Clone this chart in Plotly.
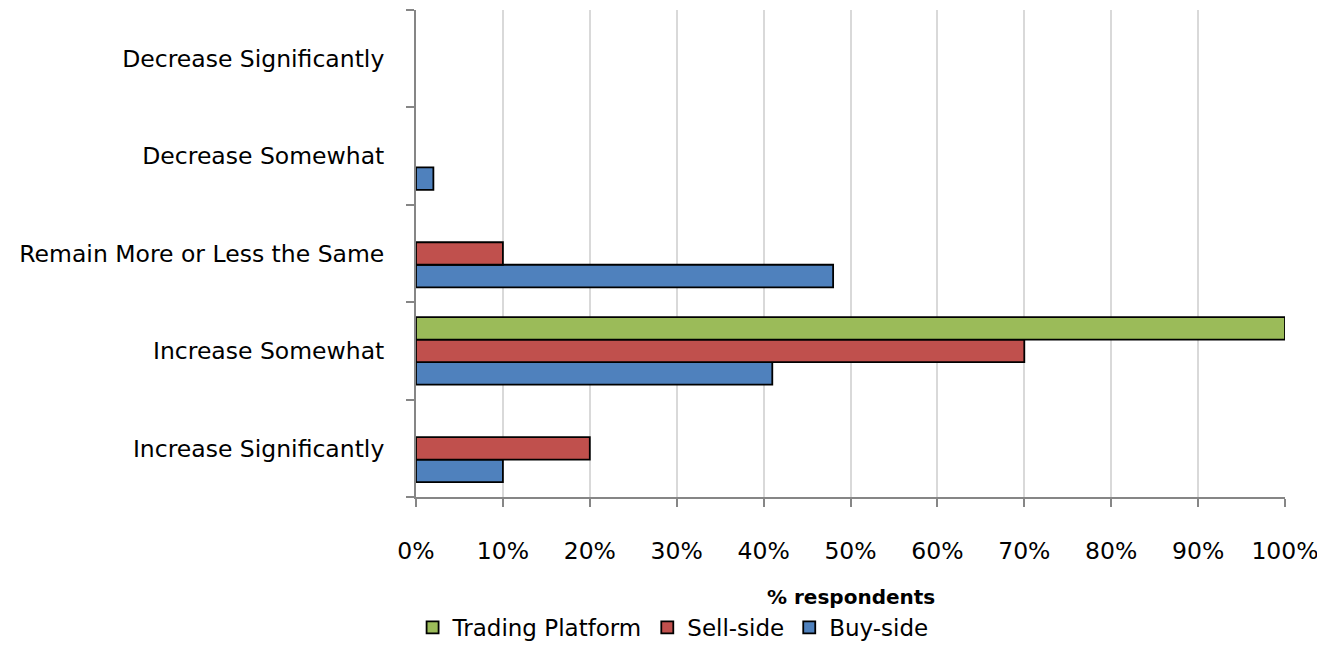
import plotly.graph_objects as go

categories = ["Increase Significantly", "Increase Somewhat", "Remain More or Less the Same",
              "Decrease Somewhat", "Decrease Significantly"]
buy_side = [10, 41, 48, 2, 0]
sell_side = [20, 70, 10, 0, 0]
trading_platform = [0, 100, 0, 0, 0]
x_ticks = list(range(0, 101, 10))
x_tick_labels = [f"{v}%" for v in x_ticks]

FONT = "DejaVu Sans"

fig = go.Figure()
for name, vals, color in [("Buy-side", buy_side, "#4F81BD"),
                          ("Sell-side", sell_side, "#C0504D"),
                          ("Trading Platform", trading_platform, "#9BBB59")]:
    # zero values are left empty so no outline stub is drawn
    fig.add_trace(go.Bar(y=categories, x=[v if v else None for v in vals], name=name, orientation="h",
                         marker=dict(color=color, line=dict(color="black", width=1.8))))

# page body has an 8px margin, so the figure is a bit smaller than the window
fig.update_layout(
    width=1317, height=641,
    margin=dict(l=408, r=40, t=2, b=152),
    barmode="group", bargap=0.306, bargroupgap=0,
    plot_bgcolor="white", paper_bgcolor="white",
    font=dict(family=FONT, size=23.5, color="black"),
    showlegend=True,
    legend=dict(orientation="h", traceorder="reversed", xref="container", x=0.505, xanchor="center",
                yref="container", y=0.0, yanchor="bottom", font=dict(size=23),
                itemwidth=30, tracegroupgap=0),
)
fig.add_annotation(text="<b>% respondents</b>", xref="paper", yref="paper", x=0.5, y=-0.205,
                   xanchor="center", yanchor="middle", showarrow=False, font=dict(size=20))
fig.update_xaxes(
    range=[0, 100], tickvals=x_ticks, ticktext=x_tick_labels, automargin=False,
    showgrid=True, gridcolor="#d9d9d9", gridwidth=2,
    showline=True, linecolor="#868686", linewidth=2,
    ticks="outside", ticklen=8, tickcolor="#868686", tickwidth=2,
    ticklabelstandoff=24, zeroline=False,
)
fig.update_yaxes(
    showline=True, linecolor="#868686", linewidth=2, automargin=False,
    ticks="outside", ticklen=8, tickcolor="#868686", tickwidth=2,
    tickson="boundaries", ticklabelstandoff=25, showgrid=False,
)

fig.write_html("out.html")
